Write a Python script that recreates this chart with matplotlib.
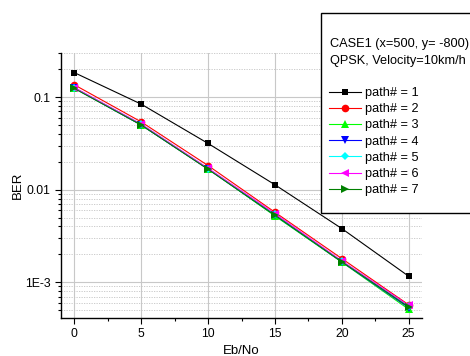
import numpy as np
import matplotlib.pyplot as plt
from matplotlib.patches import Rectangle
from matplotlib.ticker import FixedLocator, MultipleLocator, LogLocator, NullFormatter

plt.rcParams['font.family'] = ['Liberation Sans', 'DejaVu Sans']

ebno = [0, 5, 10, 15, 20, 25]
ber_p1 = [0.184, 0.084, 0.0316, 0.0113, 0.0038, 0.00116]
ber_p2 = [0.136, 0.054, 0.0182, 0.0057, 0.00180, 0.00057]
ber_p3 = [0.126, 0.050, 0.0168, 0.0052, 0.00165, 0.00051]
ber_p4 = [0.125, 0.050, 0.0167, 0.0053, 0.00166, 0.00053]
ber_p5 = [0.126, 0.051, 0.0169, 0.0054, 0.00168, 0.00055]
ber_p6 = [0.127, 0.051, 0.0170, 0.0055, 0.00170, 0.00056]
ber_p7 = [0.124, 0.050, 0.0166, 0.0053, 0.00166, 0.00054]
series = [ber_p1, ber_p2, ber_p3, ber_p4, ber_p5, ber_p6, ber_p7]
labels = [f'path# = {i}' for i in range(1, 8)]
colors = ['black', 'red', '#00ff00', 'blue', 'cyan', 'magenta', 'green']
markers = ['s', 'o', '^', 'v', 'D', '<', '>']
msizes = [5, 5.5, 5.5, 5.5, 4.5, 5.5, 5.5]

W, H = 470, 356
fig = plt.figure(figsize=(W / 100, H / 100), dpi=100)
ax = fig.add_axes([61 / W, 1 - 318 / H, (422 - 61) / W, (318 - 53) / H])

lines = []
for y, lab, c, m, ms in zip(series, labels, colors, markers, msizes):
    ln, = ax.plot(ebno, y, color=c, marker=m, markersize=ms, linewidth=0.8,
                  markeredgewidth=0, label=lab)
    lines.append(ln)

ax.set_yscale('log')
ax.set_xlim(-1, 26)
ax.set_ylim(4.1e-4, 0.3)

ax.xaxis.set_major_locator(FixedLocator(ebno))
ax.xaxis.set_minor_locator(MultipleLocator(2.5))
ax.yaxis.set_major_locator(FixedLocator([1e-3, 1e-2, 1e-1]))
ax.yaxis.set_minor_locator(LogLocator(base=10, subs=np.arange(2, 10)))
ax.yaxis.set_minor_formatter(NullFormatter())
ax.set_yticklabels(['1E-3', '0.01', '0.1'])

ax.tick_params(which='both', direction='out', labelsize=8.8, width=0.8)
ax.tick_params(which='major', length=4)
ax.tick_params(which='minor', length=2.5)

ax.grid(True, which='major', axis='x', color='#c8c8c8', linewidth=0.8)
ax.grid(True, which='major', axis='y', color='#c8c8c8', linewidth=0.8)
ax.grid(True, which='minor', axis='y', color='#c4c4c4', linewidth=0.6, linestyle=(0, (1.5, 1.5)))
ax.set_axisbelow(True)

for s in ['top', 'right']:
    ax.spines[s].set_visible(False)
ax.spines['left'].set_linewidth(1.0)
ax.spines['bottom'].set_linewidth(1.0)

ax.set_xlabel('Eb/No', fontsize=9.5, labelpad=3)
ax.set_ylabel('BER', fontsize=9.5, labelpad=1)

# legend box drawn by hand, runs past the right edge
box = Rectangle((321 / W, 1 - 213 / H), (480 - 321) / W, (213 - 13) / H,
                transform=fig.transFigure, facecolor='white', edgecolor='black',
                linewidth=1.0, zorder=5)
fig.patches.append(box)
fig.text(330 / W, 1 - 44 / H, 'CASE1 (x=500, y= -800)', fontsize=9.2,
         va='center', ha='left', zorder=6)
fig.text(330 / W, 1 - 61 / H, 'QPSK, Velocity=10km/h', fontsize=9.2,
         va='center', ha='left', zorder=6)

leg = fig.legend(handles=lines, loc='upper left', bbox_to_anchor=(329 / W, 1 - 87 / H),
                 frameon=False, fontsize=9.2, handlelength=2.5, handletextpad=0.3,
                 labelspacing=0.33, borderpad=0, borderaxespad=0)
leg.set_zorder(7)

fig.savefig('out.png', dpi=100)
